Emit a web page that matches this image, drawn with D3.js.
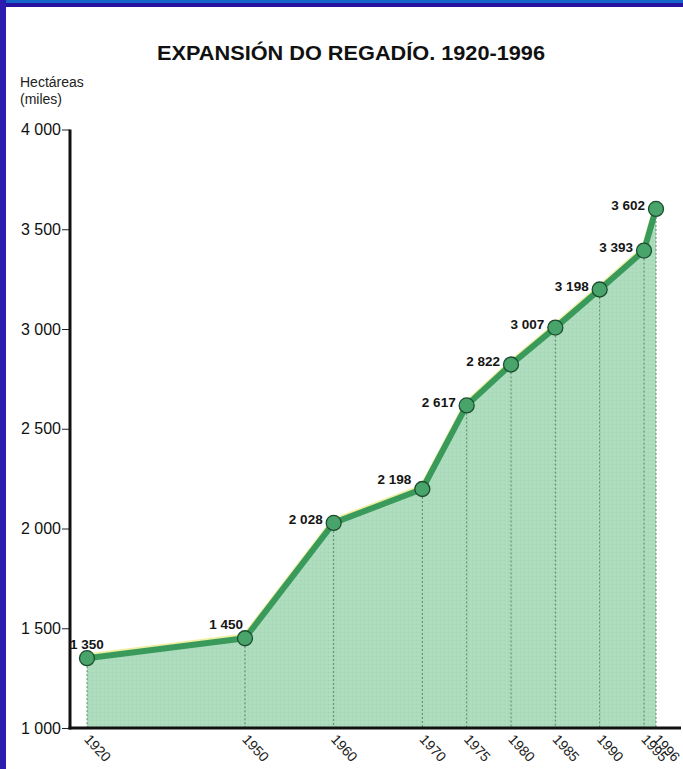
<!DOCTYPE html>
<html><head><meta charset="utf-8">
<script src="https://cdn.jsdelivr.net/npm/d3@7"></script>
<style>
html,body{margin:0;padding:0;background:#fff;}
svg{display:block;}
text{font-family:"Liberation Sans",Arial,sans-serif;}
</style></head>
<body>
<script>
const years = [1920, 1950, 1960, 1970, 1975, 1980, 1985, 1990, 1995, 1996];
const hectares = [1350, 1450, 2028, 2198, 2617, 2822, 3007, 3198, 3393, 3602];
const valueLabels = ["1 350","1 450","2 028","2 198","2 617","2 822","3 007","3 198","3 393","3 602"];
const labelPlacement = ["above","aboveLeft","left","leftHigh","left","left","left","left","left","left"];
const yTicks = [1000, 1500, 2000, 2500, 3000, 3500, 4000];
const yTickLabels = ["1 000","1 500","2 000","2 500","3 000","3 500","4 000"];
const title = "EXPANSIÓN DO REGADÍO. 1920-1996";
const yTitle = ["Hectáreas", "(miles)"];

const W = 683, H = 769;
const svg = d3.select("body").append("svg").attr("width", W).attr("height", H);

// frame
svg.append("rect").attr("x",0).attr("y",0).attr("width",W).attr("height",3).attr("fill","#1566c8");
svg.append("rect").attr("x",0).attr("y",3).attr("width",W).attr("height",4).attr("fill","#2a12a0");
svg.append("rect").attr("x",0).attr("y",0).attr("width",6).attr("height",H).attr("fill","#2c1cb0");

const x = d3.scaleLinear().domain([1920, 1950, 1995, 1996]).range([87, 245, 644, 656]);
const y = d3.scaleLinear().domain([1000, 4000]).range([728, 129.5]);

const data = years.map((yr, i) => ({year: yr, v: hectares[i], label: valueLabels[i], place: labelPlacement[i]}));

// pattern for textured fill
const defs = svg.append("defs");
const pat = defs.append("pattern").attr("id","tex").attr("width",4).attr("height",4).attr("patternUnits","userSpaceOnUse");
pat.append("rect").attr("width",4).attr("height",4).attr("fill","#acdcbc");
pat.append("rect").attr("x",0).attr("y",0).attr("width",1).attr("height",1).attr("fill","#9fd2b0");
pat.append("rect").attr("x",2).attr("y",2).attr("width",1).attr("height",1).attr("fill","#b9e3c6");

// area
const area = d3.area().x(d => x(d.year)).y0(y(1000)).y1(d => y(d.v));
svg.append("path").datum(data).attr("d", area).attr("fill", "url(#tex)");

// dashed drop lines
svg.selectAll("line.drop").data(data).join("line").attr("class","drop")
  .attr("x1", d => x(d.year)).attr("x2", d => x(d.year))
  .attr("y1", d => y(d.v)).attr("y2", y(1000))
  .attr("stroke","#4d7a5c").attr("stroke-width",0.9).attr("stroke-dasharray","2,2");

// line with yellow highlight
const line = d3.line().x(d => x(d.year)).y(d => y(d.v));
svg.append("path").datum(data).attr("d", line).attr("fill","none")
  .attr("stroke","#eef0a0").attr("stroke-width",6).attr("transform","translate(0,-1.8)").attr("stroke-linejoin","round");
svg.append("path").datum(data).attr("d", line).attr("fill","none")
  .attr("stroke","#3a9a5c").attr("stroke-width",6).attr("stroke-linejoin","round");

// axes
const yAxis = d3.axisLeft(y).tickValues(yTicks).tickSize(8).tickFormat((d,i) => yTickLabels[i]);
const gy = svg.append("g").attr("transform","translate(70,0)").call(yAxis);
gy.select(".domain").remove();
gy.selectAll(".tick line").attr("stroke","#222").attr("stroke-width",1);
gy.selectAll(".tick text").attr("font-size",16).attr("fill","#111").attr("x",-9)
  .attr("font-family","Liberation Sans, Arial, sans-serif");

svg.append("line").attr("x1",70).attr("x2",70).attr("y1",y(4000)).attr("y2",y(1000)+1.5)
  .attr("stroke","#111").attr("stroke-width",3);
svg.append("line").attr("x1",68.5).attr("x2",681).attr("y1",y(1000)).attr("y2",y(1000))
  .attr("stroke","#111").attr("stroke-width",3);

const xAxis = d3.axisBottom(x).tickValues(years).tickSize(0).tickFormat(d3.format("d"));
const gx = svg.append("g").attr("transform",`translate(0,${y(1000)})`).call(xAxis);
gx.select(".domain").remove();
gx.selectAll(".tick text").attr("font-size",14).attr("fill","#222")
  .attr("text-anchor","start").attr("dy",0).attr("y",0)
  .attr("transform","translate(-4,12) rotate(47)")
  .attr("font-family","Liberation Sans, Arial, sans-serif");

// points
svg.selectAll("circle.pt").data(data).join("circle").attr("class","pt")
  .attr("cx", d => x(d.year)).attr("cy", d => y(d.v)).attr("r",7.5)
  .attr("fill","#48a46a").attr("stroke","#1d4d2e").attr("stroke-width",1.3);

// value labels
const offs = {
  above: {dx: 0, dy: -14, anchor: "middle"},
  aboveLeft: {dx: -2, dy: -14, anchor: "end"},
  left: {dx: -11, dy: -3, anchor: "end"},
  leftHigh: {dx: -11, dy: -9, anchor: "end"}
};
svg.selectAll("text.val").data(data).join("text").attr("class","val")
  .attr("x", d => x(d.year) + offs[d.place].dx)
  .attr("y", d => y(d.v) + offs[d.place].dy)
  .attr("text-anchor", d => offs[d.place].anchor)
  .attr("dominant-baseline","central")
  .attr("font-size",13.5).attr("font-weight","bold").attr("fill","#151515")
  .text(d => d.label);

// title
svg.append("text").attr("x",351).attr("y",60).attr("text-anchor","middle")
  .attr("font-size",20).attr("font-weight","bold").attr("fill","#111")
  .attr("textLength",388).attr("lengthAdjust","spacingAndGlyphs").text(title);

svg.selectAll("text.ytitle").data(yTitle).join("text").attr("class","ytitle")
  .attr("x",20).attr("y",(d,i) => 87 + i*17).attr("font-size",14).attr("fill","#222").text(d => d);
</script>
</body></html>
